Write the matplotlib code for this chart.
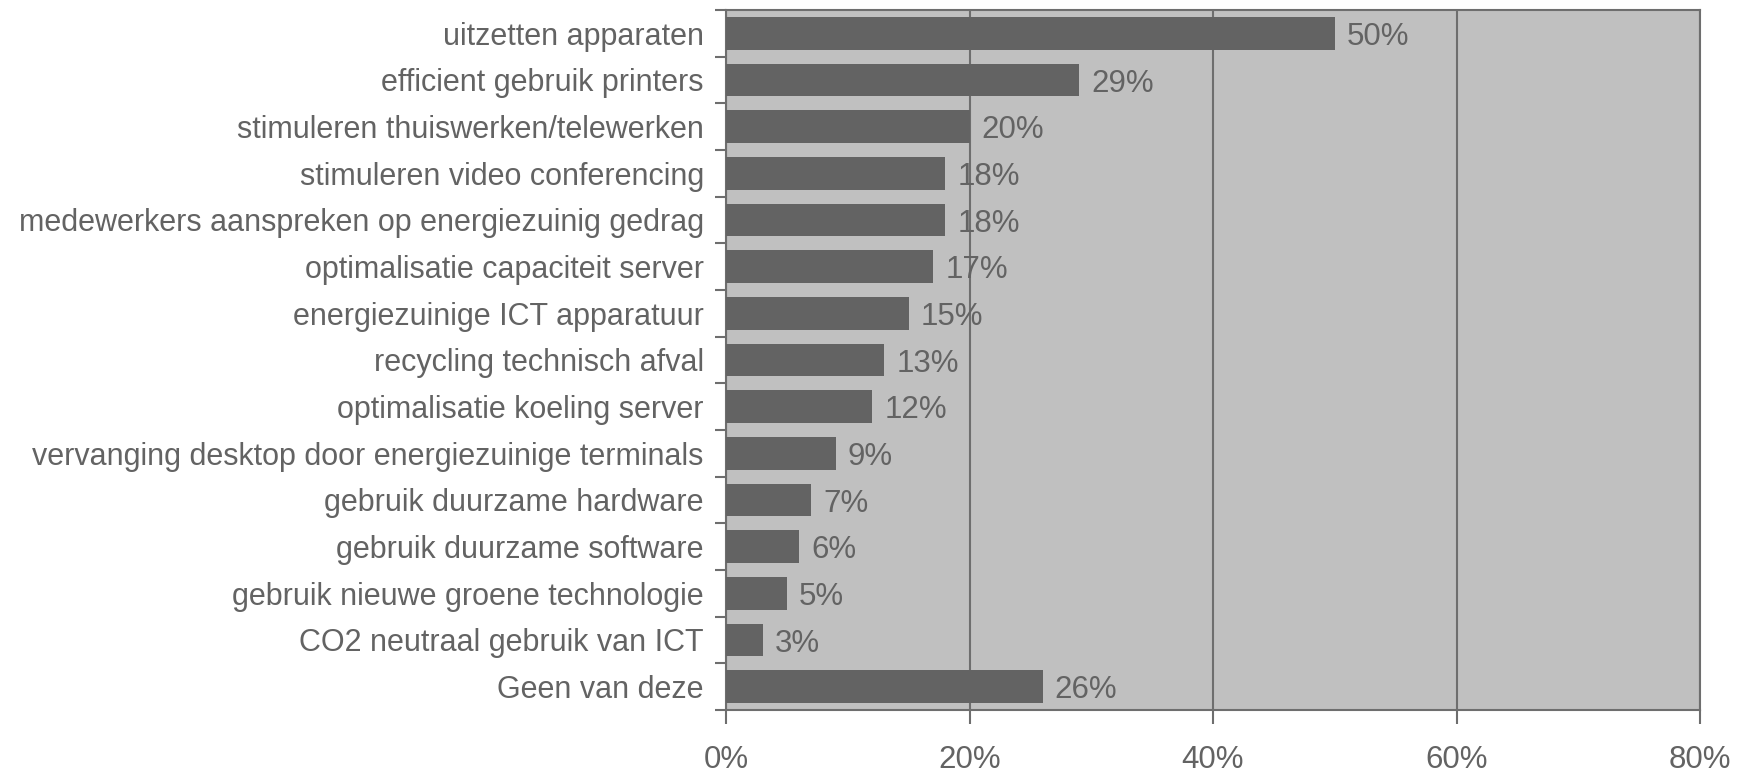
import matplotlib
matplotlib.use("Agg")
import matplotlib.pyplot as plt
from matplotlib.ticker import FixedLocator

# ── data ─────────────────────────────────────────────────────────────────────
categories = [
    "uitzetten apparaten",
    "efficient gebruik printers",
    "stimuleren thuiswerken/telewerken",
    "stimuleren video conferencing",
    "medewerkers aanspreken op energiezuinig gedrag",
    "optimalisatie capaciteit server",
    "energiezuinige ICT apparatuur",
    "recycling technisch afval",
    "optimalisatie koeling server",
    "vervanging desktop door energiezuinige terminals",
    "gebruik duurzame hardware",
    "gebruik duurzame software",
    "gebruik nieuwe groene technologie",
    "CO2 neutraal gebruik van ICT",
    "Geen van deze",
]
values = [50, 29, 20, 18, 18, 17, 15, 13, 12, 9, 7, 6, 5, 3, 26]
x_ticks = [0, 20, 40, 60, 80]

# ── style ────────────────────────────────────────────────────────────────────
TEXT = "#636363"
BAR = "#636363"
BG = "#c0c0c0"
LINE = "#6e6e6e"
FS = 22.5
FS_CAT = 22

plt.rcParams["font.family"] = ["Liberation Sans", "DejaVu Sans"]

fig = plt.figure(figsize=(17.52, 7.74), dpi=100)
ax = fig.add_axes([726 / 1752, 1 - 710 / 774, 974 / 1752, 700 / 774])
ax.set_facecolor(BG)

n = len(categories)
ypos = list(range(n))
ax.barh(ypos, values, height=0.7, color=BAR, zorder=3)
for y, v in zip(ypos, values):
    ax.text(v + 1.0, y + 0.08, f"{v}%", va="center", ha="left",
            fontsize=FS, color=TEXT, zorder=4)

ax.set_xlim(0, 80)
ax.set_ylim(n - 0.5, -0.5)

ax.xaxis.set_major_locator(FixedLocator(x_ticks))
ax.set_xticklabels([f"{t}%" for t in x_ticks])
ax.grid(axis="x", color=LINE, linewidth=1.5, zorder=1)

# category labels without ticks, tick marks at category boundaries
ax.set_yticks(ypos)
ax.set_yticklabels(categories)
ax.yaxis.set_minor_locator(FixedLocator([i - 0.5 for i in range(n + 1)]))
ax.tick_params(axis="y", which="major", length=0, pad=16,
               labelsize=FS_CAT, labelcolor=TEXT)
ax.tick_params(axis="y", which="minor", length=8, width=1.5, color=LINE)
ax.tick_params(axis="x", which="major", length=10, width=1.5, color=LINE,
               pad=15, labelsize=FS, labelcolor=TEXT)

for s in ax.spines.values():
    s.set_color(LINE)
    s.set_linewidth(1.5)

fig.savefig("out.png", dpi=100)
